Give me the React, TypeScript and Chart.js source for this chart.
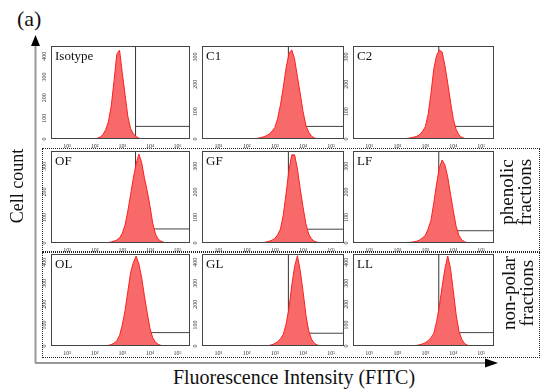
import React, { useEffect, useRef } from 'react';
import { Chart, registerables } from 'chart.js';

Chart.register(...registerables);

// ---------- data ----------
const X_DECADES = [
  1.6, 1.7, 1.8, 1.9, 2.0, 2.1, 2.2, 2.3, 2.4, 2.5, 2.6, 2.7, 2.8, 2.9, 3.0, 3.1,
  3.2, 3.3, 3.4, 3.5, 3.6, 3.7, 3.8, 3.9, 4.0, 4.1, 4.2, 4.3, 4.4, 4.5, 4.6,
];
const X_TICKS = [1, 2, 3, 4, 5];
const X_TICK_LABELS = ['10¹', '10²', '10³', '10⁴', '10⁵'];
const Y_TICKS = [0, 100, 200, 300, 400];

const PANEL_LABELS = ['Isotype', 'C1', 'C2', 'OF', 'GF', 'LF', 'OL', 'GL', 'LL'];

const COUNTS_ISOTYPE = [0, 0, 0, 0, 1, 4, 10, 21, 45, 85, 160, 280, 410, 430, 320, 215, 110, 50, 25, 12, 4, 1, 0, 0, 0, 0, 0, 0, 0, 0, 0];
const COUNTS_C1 = [0, 0, 0, 0, 0, 0, 0, 1, 3, 5, 8, 12, 18, 28, 42, 75, 125, 190, 260, 312, 326, 292, 228, 165, 100, 50, 25, 10, 4, 1, 0];
const COUNTS_C2 = [0, 0, 0, 0, 0, 0, 0, 1, 3, 5, 7, 10, 16, 28, 45, 90, 165, 255, 305, 325, 318, 268, 204, 135, 72, 35, 15, 6, 2, 0, 0];
const COUNTS_OF = [0, 0, 0, 0, 0, 0, 0, 0, 1, 2, 4, 7, 12, 20, 38, 70, 125, 189, 255, 310, 348, 315, 255, 205, 145, 78, 35, 15, 7, 3, 0];
const COUNTS_GF = [0, 0, 0, 0, 0, 0, 0, 0, 0, 1, 2, 4, 7, 11, 18, 32, 55, 110, 195, 285, 345, 345, 290, 211, 140, 75, 35, 16, 7, 3, 0];
const COUNTS_LF = [0, 0, 0, 0, 0, 0, 0, 0, 2, 3, 5, 7, 12, 20, 30, 55, 88, 155, 230, 295, 325, 305, 258, 190, 125, 65, 30, 12, 5, 1, 0];
const COUNTS_OL = [0, 0, 0, 0, 0, 0, 0, 0, 0, 3, 7, 13, 25, 50, 100, 170, 260, 350, 400, 430, 392, 328, 240, 160, 85, 40, 18, 8, 3, 0, 0];
const COUNTS_GL = [0, 0, 0, 0, 0, 0, 0, 0, 0, 0, 0, 0, 3, 6, 12, 20, 35, 56, 105, 180, 290, 380, 432, 360, 260, 150, 72, 32, 13, 5, 1];
const COUNTS_LL = [0, 0, 0, 0, 0, 0, 0, 0, 0, 0, 0, 3, 6, 10, 16, 25, 40, 60, 115, 190, 285, 370, 430, 370, 262, 150, 70, 32, 12, 4, 1];

const PANEL_COUNTS = [
  COUNTS_ISOTYPE, COUNTS_C1, COUNTS_C2,
  COUNTS_OF, COUNTS_GF, COUNTS_LF,
  COUNTS_OL, COUNTS_GL, COUNTS_LL,
];
const Y_MAX = [450, 340, 340, 360, 360, 360, 440, 440, 440];
const GATE_X = 3.48;
const GATE_Y = [61, 46, 46, 55, 54, 48, 64, 61, 64];
const GATE_VERTICAL = [true, true, true, true, true, true, false, true, true];

// ---------- layout / style ----------
const X_MIN = 0.42;
const X_MAX = 5.45;
const COLS = [
  { left: 51, w: 139 },
  { left: 202, w: 142 },
  { left: 353, w: 141 },
];
const ROWS = [
  { top: 46, h: 93 },
  { top: 151, h: 92 },
  { top: 254, h: 92 },
];
const PAD_L = 14;
const PAD_T = 4;
const PAD_R = 4;
const PAD_B = 12;
const SERIF = "'Liberation Serif', 'DejaVu Serif', serif";
const FILL = '#F86A6A';
const EDGE = '#FF1E1E';

const decorPlugin = {
  id: 'panelDecor',
  afterDatasetsDraw(chart: any, _args: any, opts: any) {
    const { ctx, chartArea } = chart;
    const x = chart.scales.x;
    const y = chart.scales.y;
    ctx.save();
    ctx.strokeStyle = '#444';
    ctx.lineWidth = 1;
    const l = Math.round(chartArea.left) + 0.5;
    const t = Math.round(chartArea.top) + 0.5;
    const r = Math.round(chartArea.right) - 0.5;
    const b = Math.round(chartArea.bottom) - 0.5;
    ctx.strokeRect(l, t, r - l, b - t);

    ctx.fillStyle = '#333';
    ctx.font = `6px ${SERIF}`;
    ctx.textAlign = 'center';
    ctx.textBaseline = 'middle';
    (opts.yTicks as number[]).forEach((v) => {
      const py = y.getPixelForValue(v);
      ctx.save();
      ctx.translate(chartArea.left - 7, py);
      ctx.rotate(-Math.PI / 2);
      ctx.fillText(String(v), 0, 0);
      ctx.restore();
    });
    X_TICKS.forEach((v, i) => {
      const px = x.getPixelForValue(v);
      ctx.fillText(X_TICK_LABELS[i], px, chartArea.bottom + 7);
    });

    ctx.fillStyle = '#111';
    ctx.font = `13px ${SERIF}`;
    ctx.textAlign = 'left';
    ctx.textBaseline = 'top';
    ctx.fillText(opts.label, chartArea.left + 4, chartArea.top + 4);
    ctx.restore();
  },
};

function Panel({ index }: { index: number }) {
  const ref = useRef<HTMLCanvasElement | null>(null);
  const col = COLS[index % 3];
  const row = ROWS[Math.floor(index / 3)];
  const width = col.w + PAD_L + PAD_R;
  const height = row.h + PAD_T + PAD_B;

  useEffect(() => {
    if (!ref.current) return;
    const counts = PANEL_COUNTS[index];
    const yMax = Y_MAX[index];
    const gy = GATE_Y[index];
    const datasets: any[] = [
      {
        data: X_DECADES.map((x, i) => ({ x, y: counts[i] })),
        fill: 'origin',
        backgroundColor: FILL,
        borderColor: EDGE,
        borderWidth: 1,
        pointRadius: 0,
        tension: 0,
      },
      {
        data: [{ x: GATE_X, y: gy }, { x: X_MAX, y: gy }],
        fill: false,
        borderColor: '#444',
        borderWidth: 1,
        pointRadius: 0,
      },
    ];
    if (GATE_VERTICAL[index]) {
      datasets.push({
        data: [{ x: GATE_X, y: 0 }, { x: GATE_X, y: yMax }],
        fill: false,
        borderColor: '#333',
        borderWidth: 1,
        pointRadius: 0,
      });
    }
    const chart = new Chart(ref.current, {
      type: 'line',
      data: { datasets },
      options: {
        responsive: false,
        animation: false,
        events: [],
        layout: { padding: { left: PAD_L, top: PAD_T, right: PAD_R, bottom: PAD_B } },
        plugins: {
          legend: { display: false },
          tooltip: { enabled: false },
          panelDecor: { label: PANEL_LABELS[index], yTicks: Y_TICKS.filter((v) => v <= yMax) },
        } as any,
        scales: {
          x: { type: 'linear', min: X_MIN, max: X_MAX, display: false },
          y: { type: 'linear', min: 0, max: yMax, display: false },
        },
      },
      plugins: [decorPlugin],
    });
    return () => chart.destroy();
  }, [index]);

  return (
    <canvas
      ref={ref}
      width={width}
      height={height}
      style={{
        position: 'absolute',
        left: col.left - PAD_L,
        top: row.top - PAD_T,
        width,
        height,
      }}
    />
  );
}

const textBase: React.CSSProperties = {
  position: 'absolute',
  fontFamily: SERIF,
  color: '#111',
  whiteSpace: 'nowrap',
  lineHeight: 1,
};

export default function App() {
  return (
    <div
      style={{
        position: 'absolute',
        left: 0,
        top: 0,
        width: 550,
        height: 392,
        background: '#fff',
        overflow: 'hidden',
      }}
    >
      {/* dotted group boxes */}
      <div style={{ position: 'absolute', left: 42, top: 148, width: 498, height: 104, border: '1px dotted #222', boxSizing: 'border-box' }} />
      <div style={{ position: 'absolute', left: 42, top: 252, width: 498, height: 106, border: '1px dotted #222', boxSizing: 'border-box' }} />

      {/* arrows */}
      <svg width={550} height={392} style={{ position: 'absolute', left: 0, top: 0 }}>
        <line x1={35.5} y1={44} x2={35.5} y2={363} stroke="#999" strokeWidth={2} />
        <line x1={35} y1={363} x2={486} y2={363} stroke="#999" strokeWidth={2} />
        <polygon points="35.5,35 31,46 40,46" fill="#000" />
        <polygon points="498,363 485,358.5 485,367.5" fill="#000" />
      </svg>

      {PANEL_LABELS.map((_, i) => (
        <Panel key={i} index={i} />
      ))}

      <div style={{ ...textBase, left: 17, top: 8, fontSize: 22 }}>(a)</div>
      <div
        style={{
          ...textBase,
          left: 17,
          top: 186,
          fontSize: 18,
          transform: 'translate(-50%, -50%) rotate(-90deg)',
        }}
      >
        Cell count
      </div>
      <div
        style={{
          ...textBase,
          left: 294,
          top: 377,
          fontSize: 20,
          transform: 'translate(-50%, -50%)',
        }}
      >
        Fluorescence Intensity (FITC)
      </div>
      <div
        style={{
          ...textBase,
          left: 516,
          top: 192,
          fontSize: 19,
          lineHeight: '18px',
          textAlign: 'center',
          transform: 'translate(-50%, -50%) rotate(-90deg)',
        }}
      >
        phenolic
        <br />
        fractions
      </div>
      <div
        style={{
          ...textBase,
          left: 518,
          top: 293,
          fontSize: 19,
          lineHeight: '18px',
          textAlign: 'center',
          transform: 'translate(-50%, -50%) rotate(-90deg)',
        }}
      >
        non-polar
        <br />
        fractions
      </div>
    </div>
  );
}
